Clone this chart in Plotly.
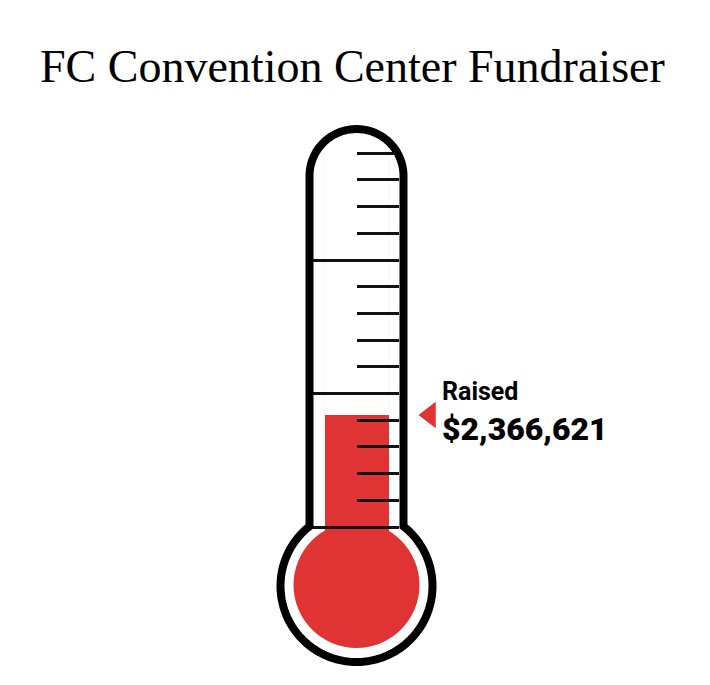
import numpy as np
import plotly.graph_objects as go

# ---- data ----
TITLE = "FC Convention Center Fundraiser"
LABEL = "Raised"
RAISED = 2366621                      # dollars raised
SCALE_MAJOR = [0, 5, 10]              # long scale lines
SCALE_MINOR = [1, 2, 3, 4, 6, 7, 8, 9, 11, 12, 13, 14]  # short scale ticks

# ---- geometry (pixels, drawing layout only) ----
W, H = 710, 685
CX = 356.5
RED = "#e03434"
INK = "#111111"

# dollar axis: 0 $ at bulb centre (y=585), RAISED at y=415
px0, px1 = 585.0, 415.0
k = RAISED / (px0 - px1)              # dollars per pixel
y2_range = [-(H - px0) * k, px0 * k]

# scale axis: 0 at y=527, step 26.7 px
s0, step = 527.0, (527.0 - 153.3) / 14
y3_range = [(s0 - H) / step, s0 / step]

fig = go.Figure()

# mercury column
fig.add_trace(go.Bar(x=[CX], y=[RAISED], base=0, width=64, yaxis="y2",
                     marker=dict(color=RED, line=dict(width=0)),
                     hoverinfo="skip", showlegend=False))
# pointer
fig.add_trace(go.Scatter(x=[430], y=[RAISED], yaxis="y2", mode="markers",
                         marker=dict(symbol="triangle-left", size=23, color=RED,
                                     line=dict(width=0)),
                         hoverinfo="skip", showlegend=False))
# scale axis carrier (invisible trace)
fig.add_trace(go.Scatter(x=[None], y=[None], yaxis="y3", showlegend=False))

# ---- thermometer outline (screen coords, y grows downward) ----
rt = 47.0                 # tube half width (stroke centre)
ty = 129 + rt             # arch centre y
bc, br = 586.0, 76.0      # bulb centre, radius
jy = bc - np.sqrt(br**2 - rt**2)
pts = [(CX - rt, jy), (CX - rt, ty)]
for a in np.linspace(np.pi, 2 * np.pi, 60):
    pts.append((CX + rt * np.cos(a), ty + rt * np.sin(a)))
pts.append((CX + rt, jy))
th_r = np.arctan2(jy - bc, rt)
th_l = np.arctan2(jy - bc, -rt) + 2 * np.pi
for a in np.linspace(th_r, th_l, 160):
    pts.append((CX + br * np.cos(a), bc + br * np.sin(a)))
path = "M " + " L ".join(f"{x:.2f},{y:.2f}" for x, y in pts) + " Z"

shapes = []
# red bulb
shapes.append(dict(type="circle", xref="x", yref="y", x0=CX - 63, x1=CX + 63,
                   y0=585 - 63, y1=585 + 63, fillcolor=RED, line=dict(width=0),
                   layer="below"))
# faint track lines
for xx in (CX - 32.5, CX + 32.5):
    shapes.append(dict(type="line", xref="x", yref="y", x0=xx, x1=xx, y0=150, y1=522,
                       line=dict(color="rgba(224,52,52,0.07)", width=1), layer="below"))
shapes.append(dict(type="path", xref="x", yref="y", path=path,
                   line=dict(color="black", width=8), fillcolor="rgba(0,0,0,0)",
                   layer="above"))

annotations = [
    dict(text=TITLE, x=352.5, y=66, xref="x", yref="y", showarrow=False,
         xanchor="center", yanchor="middle",
         font=dict(family="Liberation Serif, DejaVu Serif, serif", size=46, color="black")),
    dict(text=LABEL, x=440, y=391, xref="x", yref="y", showarrow=False,
         xanchor="left", yanchor="middle",
         font=dict(family="Roboto, Arial, sans-serif", size=25, color="black", weight=700)),
    dict(text=f"${RAISED:,}", x=440, y=429, xref="x", yref="y", showarrow=False,
         xanchor="left", yanchor="middle",
         font=dict(family="Roboto, Arial, sans-serif", size=32, color="black", weight=900)),
]

fig.update_layout(
    width=W, height=H, margin=dict(l=0, r=0, t=0, b=0, pad=0, autoexpand=False),
    paper_bgcolor="white", plot_bgcolor="white",
    showlegend=False, bargap=0,
    xaxis=dict(range=[0, W], visible=False, fixedrange=True, automargin=False),
    yaxis=dict(range=[H, 0], visible=False, fixedrange=True, automargin=False),
    yaxis2=dict(range=y2_range, overlaying="y", visible=False, fixedrange=True,
                automargin=False),
    yaxis3=dict(range=y3_range, overlaying="y", anchor="free", position=(CX + 42.5) / W,
                side="left", showline=False, showgrid=False, zeroline=False,
                showticklabels=False, ticks="outside", tickmode="array",
                tickvals=SCALE_MAJOR, ticklen=86, tickwidth=2.5, tickcolor=INK,
                minor=dict(tickmode="array", tickvals=SCALE_MINOR, ticks="outside",
                           ticklen=42, tickwidth=2.5, tickcolor=INK),
                fixedrange=True, automargin=False),
    shapes=shapes, annotations=annotations,
)

fig.write_html("out.html", config={"displayModeBar": False},
               post_script="document.body.style.margin='0';document.body.style.overflow='hidden';")
